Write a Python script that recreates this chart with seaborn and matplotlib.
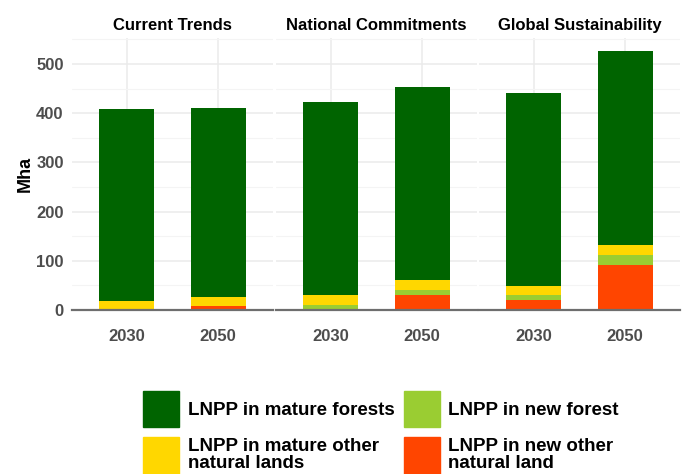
"""
Stacked bars of LNPP area (Mha) by scenario and year.
"""

import numpy as np
import pandas as pd
import seaborn as sns
import matplotlib.pyplot as plt
import matplotlib.patches as mpatches
from matplotlib.ticker import MultipleLocator

# Data (Mha)
scenarios = ["Current Trends", "National Commitments", "Global Sustainability"]
years = ["2030", "2050"]
new_other = [0, 8, 1, 31, 20, 91]        # LNPP in new other natural land
new_forest = [0, 0, 10, 10, 10, 21]      # LNPP in new forest
mature_other = [19, 18, 19, 20, 19, 20]  # LNPP in mature other natural lands
mature_forest = [389, 384, 392, 392, 393, 395]  # LNPP in mature forests

labels = ["LNPP in new other\nnatural land", "LNPP in new forest",
          "LNPP in mature other\nnatural lands", "LNPP in mature forests"]
colors = ["#FF4500", "#9ACD32", "#FFD700", "#006400"]

df = pd.DataFrame({
    "scenario": np.repeat(scenarios, 2),
    "year": years * 3,
    "new_other": new_other,
    "new_forest": new_forest,
    "mature_other": mature_other,
    "mature_forest": mature_forest,
})
layers = ["new_other", "new_forest", "mature_other", "mature_forest"]
# cumulative tops of each layer, drawn tallest first
cum = df[layers].cumsum(axis=1)
for col in layers:
    df["top_" + col] = cum[col]

sns.set_style("white")
plt.rcParams['font.family'] = ['Liberation Sans', 'DejaVu Sans']

fig = plt.figure(figsize=(6.92, 4.74), dpi=100)
W, H = 692, 474
lefts = [72, 276, 479]
pw = 201
bottom, top = 310, 38

for i, scen in enumerate(scenarios):
    ax = fig.add_axes([lefts[i] / W, 1 - bottom / H, pw / W, (bottom - top) / H])
    sub = df[df["scenario"] == scen]
    for col, c in zip(layers[::-1], colors[::-1]):
        sns.barplot(data=sub, x="year", y="top_" + col, order=years, color=c,
                    width=0.6, saturation=1, ax=ax, zorder=3, errorbar=None,
                    linewidth=0)
    ax.set_xlim(-0.6, 1.6)
    ax.set_ylim(0, 553)
    ax.yaxis.set_major_locator(MultipleLocator(100))
    ax.yaxis.set_minor_locator(MultipleLocator(50))
    ax.grid(True, which="major", color="#EBEBEB", lw=1.1, zorder=0)
    ax.grid(True, which="minor", axis="y", color="#F4F4F4", lw=0.8, zorder=0)
    for s in ["left", "right", "top"]:
        ax.spines[s].set_visible(False)
    ax.spines["bottom"].set_color("#6E6E6E")
    ax.spines["bottom"].set_linewidth(1.6)
    ax.spines["bottom"].set_zorder(5)
    ax.tick_params(axis="x", length=9, color="#E3E3E3", width=1, pad=5,
                   labelsize=12, labelcolor="#4D4D4D")
    ax.tick_params(axis="y", which="both", length=0, pad=6, labelsize=12,
                   labelcolor="#4D4D4D")
    for t in ax.get_xticklabels() + ax.get_yticklabels():
        t.set_fontweight("bold")
    ax.set_xlabel("")
    ax.set_title(scen, fontsize=12, fontweight="bold", pad=6, color="black")
    if i == 0:
        ax.set_ylabel("Mha", fontsize=13, fontweight="bold", color="black")
        ax.yaxis.set_label_coords(-0.19, 0.5)
    else:
        ax.set_ylabel("")
        ax.set_yticklabels([])

# legend, two columns
order = [3, 2, 1, 0]
handles = [mpatches.Patch(color=colors[k]) for k in order]
leg = fig.legend(handles, [labels[k] for k in order], ncol=2,
                 loc="upper left", bbox_to_anchor=(143 / W, 1 - 391 / H),
                 frameon=False, borderpad=0, borderaxespad=0,
                 handlelength=1.93, handleheight=2.586,
                 handletextpad=0.45, columnspacing=0.5, labelspacing=0.55,
                 prop={"weight": "bold", "size": 13.5})
for t in leg.get_texts():
    t.set_color("black")
    t.set_linespacing(1.0)

fig.savefig("out.png", dpi=100)
